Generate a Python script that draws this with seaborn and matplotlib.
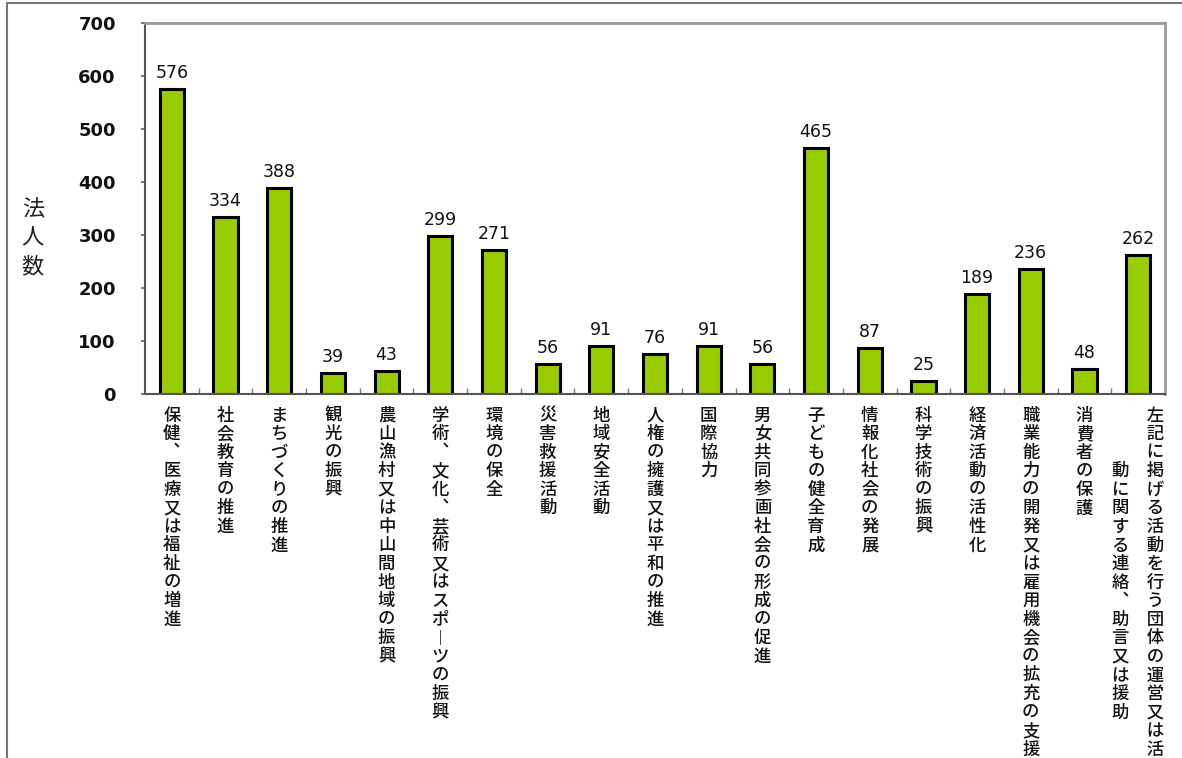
import matplotlib
matplotlib.use("Agg")
import matplotlib.pyplot as plt
import seaborn as sns
import pandas as pd
import numpy as np

# データ
categories = [
    "保健、医療又は福祉の増進",
    "社会教育の推進",
    "まちづくりの推進",
    "観光の振興",
    "農山漁村又は中山間地域の振興",
    "学術、文化、芸術又はスポーツの振興",
    "環境の保全",
    "災害救援活動",
    "地域安全活動",
    "人権の擁護又は平和の推進",
    "国際協力",
    "男女共同参画社会の形成の促進",
    "子どもの健全育成",
    "情報化社会の発展",
    "科学技術の振興",
    "経済活動の活性化",
    "職業能力の開発又は雇用機会の拡充の支援",
    "消費者の保護",
    "左記に掲げる活動を行う団体の運営又は活動に関する連絡、助言又は援助",
]
counts = [576, 334, 388, 39, 43, 299, 271, 56, 91, 76, 91, 56, 465, 87, 25, 189, 236, 48, 262]
y_ticks = [0, 100, 200, 300, 400, 500, 600, 700]

# 最後の項目は2列の縦書き
last_col1 = "左記に掲げる活動を行う団体の運営又は活"
last_col2 = "動に関する連絡、助言又は援助"

df = pd.DataFrame({"分野": categories, "法人数": counts})

sns.set_theme(style="white")
plt.rcParams["font.family"] = ["Noto Sans CJK JP", "DejaVu Sans"]

VERT = {"、": "\ufe11", "ー": "\ufe31"}


def tate(s):
    return "\n".join(VERT.get(c, c) for c in s)


def tate2(right, left, offset):
    rows = []
    for i in range(len(right)):
        j = i - offset
        lc = VERT.get(left[j], left[j]) if 0 <= j < len(left) else "\u3000"
        rows.append(lc + "\u3000" + VERT.get(right[i], right[i]))
    return "\n".join(rows)


fig = plt.figure(figsize=(11.82, 7.58), dpi=100)
ax = fig.add_axes([145 / 1182, 1 - 394 / 758, (1165 - 145) / 1182, (394 - 23) / 758])

sns.barplot(data=df, x="分野", y="法人数", color="#99cc00", width=0.45,
            edgecolor="black", linewidth=2.2, saturation=1, ax=ax)

for i, v in enumerate(counts):
    ax.text(i, v + 13, str(v), ha="center", va="bottom", fontsize=12.5,
            family="DejaVu Sans", color="#111111")

ax.set_ylim(0, 700)
ax.set_xlim(-0.5, len(categories) - 0.5)
ax.set_yticks(y_ticks)
ax.set_yticklabels([str(t) for t in y_ticks], fontsize=13, fontweight="bold",
                   family="DejaVu Sans", color="#111111")
ax.tick_params(axis="y", length=3, pad=18, color="#666666", left=True)

labels = [tate(c) for c in categories[:-1]] + [tate2(last_col1, last_col2, 3)]
ax.set_xticks(range(len(categories)))
ax.set_xticklabels(labels, fontsize=12.5, fontweight="medium", color="#111111")
for t in ax.get_xticklabels():
    t.set_linespacing(1.04)
ax.tick_params(axis="x", which="major", length=0, pad=9)
ax.set_xticks(np.arange(0.5, len(categories) - 1, 1), minor=True)
ax.tick_params(axis="x", which="minor", direction="in", length=4, color="#777777", bottom=True)

ax.set_xlabel("")
ax.set_ylabel("法\n人\n数", rotation=0, fontsize=16, color="#222222", linespacing=1.3,
              ha="center", va="center")
ax.yaxis.set_label_coords(-0.11, 0.42)

for side in ["left", "bottom"]:
    ax.spines[side].set_color("#555555")
    ax.spines[side].set_linewidth(1.5)
for side in ["top", "right"]:
    ax.spines[side].set_visible(True)
    ax.spines[side].set_color("#999999")
    ax.spines[side].set_linewidth(2.0)

# 外枠（上と左）
fig.add_artist(plt.Line2D([7 / 1182, 1], [1 - 3 / 758, 1 - 3 / 758], color="#777777", lw=1.5))
fig.add_artist(plt.Line2D([7 / 1182, 7 / 1182], [0, 1 - 3 / 758], color="#777777", lw=1.5))

fig.savefig("out.png", dpi=100)
